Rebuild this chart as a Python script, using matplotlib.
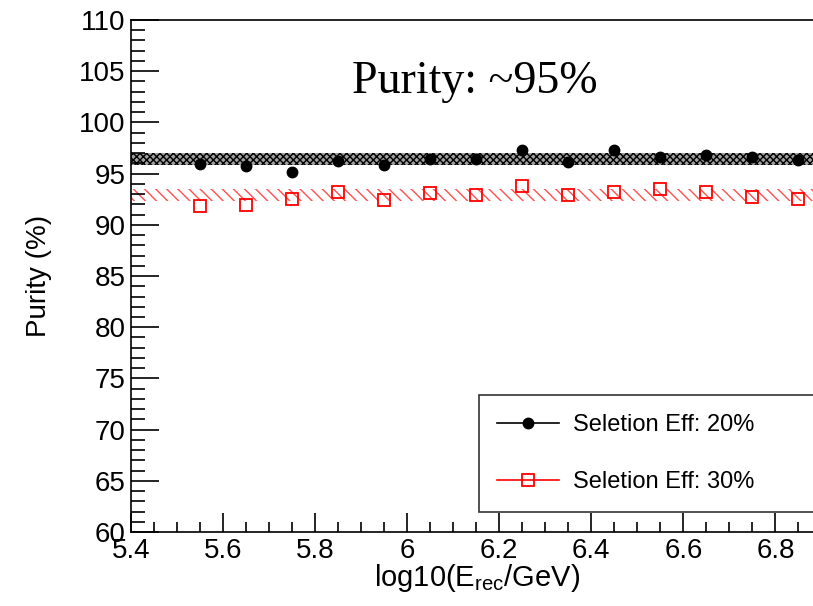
import numpy as np
import matplotlib
matplotlib.use("Agg")
import matplotlib.pyplot as plt
from matplotlib.ticker import MultipleLocator, FixedLocator

# energy bins (log10 E_rec / GeV)
log_e = [5.55, 5.65, 5.75, 5.85, 5.95, 6.05, 6.15, 6.25, 6.35, 6.45, 6.55, 6.65, 6.75, 6.85]

# purity (%) for the two selection efficiencies
purity_20 = [95.9, 95.7, 95.2, 96.2, 95.8, 96.4, 96.4, 97.3, 96.1, 97.3, 96.6, 96.8, 96.6, 96.3]
purity_30 = [91.8, 91.9, 92.5, 93.2, 92.4, 93.1, 92.9, 93.8, 92.9, 93.2, 93.5, 93.2, 92.7, 92.5]

# bands (low, high)
band_20 = (95.85, 97.0)
band_30 = (92.35, 93.45)

x_range = (5.4, 7.0)
y_range = (60, 110)

plt.rcParams['font.family'] = ['Liberation Sans', 'DejaVu Sans']

fig = plt.figure(figsize=(8.13, 6.06), dpi=100)
ax = fig.add_axes([0.161, 0.122, 0.906, 0.845])

# bands
ax.fill_between(x_range, band_20[0], band_20[1], facecolor='#a0a0a0', edgecolor='black',
                hatch='xxxxx', linewidth=0, zorder=1)
ax.fill_between(x_range, band_30[0], band_30[1], facecolor='none', edgecolor='#ff5050',
                hatch='\\\\\\', linewidth=0, zorder=1)

# points
ax.plot(log_e, purity_20, 'o', color='black', markersize=7.5, label='Seletion Eff: 20%', zorder=3)
ax.plot(log_e, purity_30, 's', color='red', markerfacecolor='none', markeredgewidth=1.3,
        markersize=8.5, label='Seletion Eff: 30%', zorder=3)

ax.set_xlim(*x_range)
ax.set_ylim(*y_range)

ax.xaxis.set_major_locator(FixedLocator([5.4, 5.6, 5.8, 6.0, 6.2, 6.4, 6.6, 6.8, 7.0]))
ax.xaxis.set_minor_locator(MultipleLocator(0.05))
ax.yaxis.set_major_locator(MultipleLocator(5))
ax.yaxis.set_minor_locator(MultipleLocator(1))
ax.set_xticklabels(['5.4', '5.6', '5.8', '6', '6.2', '6.4', '6.6', '6.8', ''])

ax.tick_params(which='both', direction='in', top=False, right=False, labelsize=20, width=1.2)
ax.tick_params(which='major', length=20)
ax.tick_params(which='minor', length=10)
ax.tick_params(axis='x', which='major', length=14, pad=4)
ax.tick_params(axis='x', which='minor', length=7)
ax.tick_params(axis='y', pad=4)
for s in ax.spines.values():
    s.set_linewidth(1.2)
ax.spines['right'].set_visible(False)

ax.set_xlabel(r'log10(E$_{\mathregular{rec}}$/GeV)', fontsize=21)
ax.xaxis.set_label_coords(0.47, -0.058)
ax.set_ylabel('Purity (%)', fontsize=20)
ax.yaxis.set_label_coords(-0.107, 0.5)

ax.text(0.467, 0.879, 'Purity: ~95%', transform=ax.transAxes, fontsize=33,
        family=['Liberation Serif', 'DejaVu Serif'], ha='center', va='center')

leg = ax.legend(loc='lower left', bbox_to_anchor=(0.472, 0.039, 0.55, 0.238), mode='expand',
                borderaxespad=0, fontsize=17, frameon=True, fancybox=False, edgecolor='black',
                borderpad=0.8, labelspacing=1.5, handlelength=2.6, handletextpad=0.6,
                numpoints=1)
leg.get_frame().set_linewidth(1.2)
for h in leg.legend_handles:
    h.set_linestyle('-')
    h.set_linewidth(1.2)

fig.savefig('out.png', dpi=100)
